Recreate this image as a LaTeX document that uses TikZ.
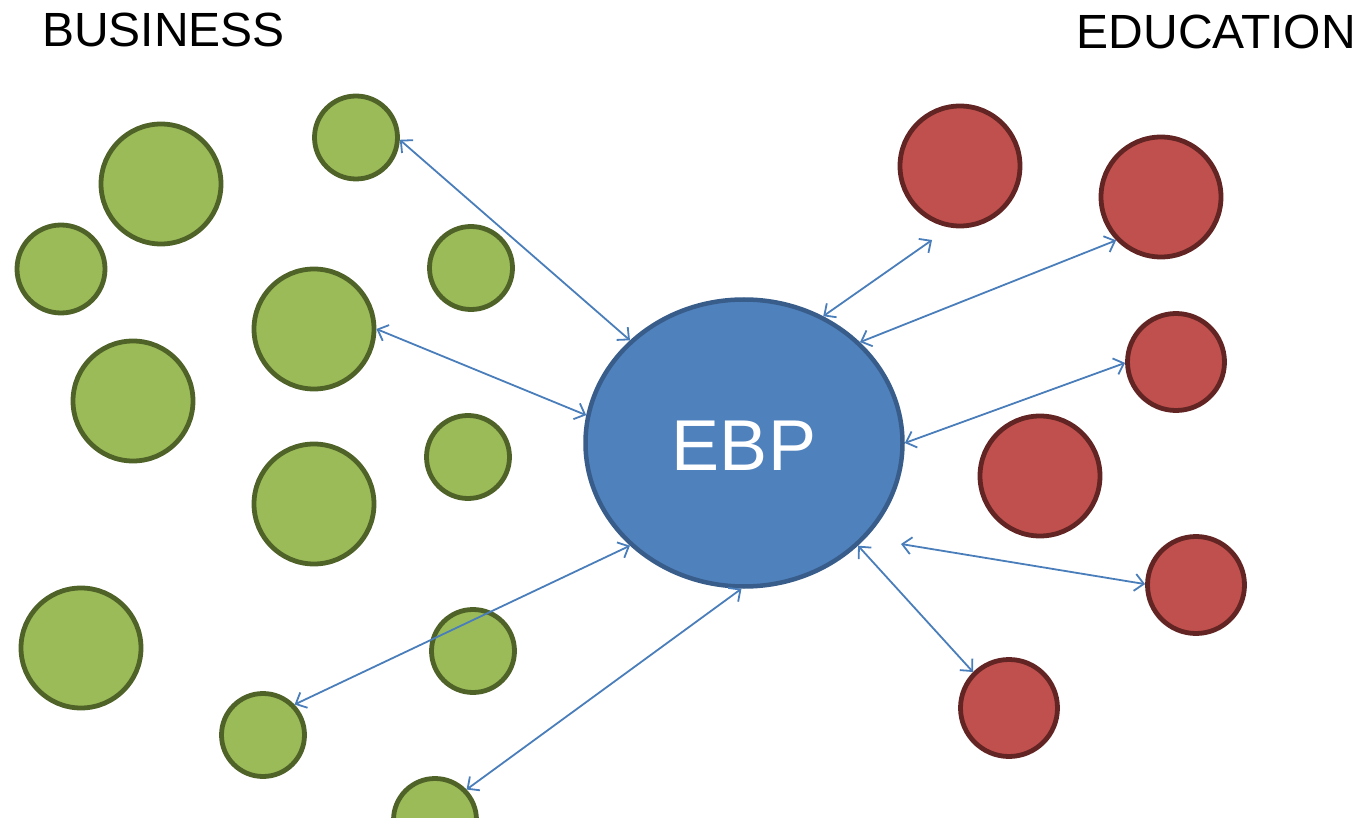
\documentclass[tikz,border=0pt]{standalone}
\usepackage{fontspec}
\setmainfont{Liberation Sans}
\usetikzlibrary{arrows.meta,shapes.geometric}
\definecolor{gfill}{HTML}{9BBB59}
\definecolor{gline}{HTML}{4F6228}
\definecolor{rfill}{HTML}{C0504D}
\definecolor{rline}{HTML}{632523}
\definecolor{bfill}{HTML}{4F81BD}
\definecolor{bline}{HTML}{385D8A}
\definecolor{aline}{HTML}{4A7EBB}
\tikzset{
  gc/.style={circle, draw=gline, fill=gfill, line width=4.8pt, inner sep=0pt},
  rc/.style={circle, draw=rline, fill=rfill, line width=4.8pt, inner sep=0pt},
  big/.style={minimum size=120pt},
  mid/.style={minimum size=97pt},
  small/.style={minimum size=83pt},
  link/.style={draw=aline, line width=1.8pt, {Straight Barb[length=9pt,width=17pt]}-{Straight Barb[length=9pt,width=17pt]}},
  title/.style={font=\fontsize{48}{56}\selectfont, inner sep=0pt}
}
\begin{document}
\begin{tikzpicture}[x=1pt,y=-1pt]
\path[use as bounding box, clip] (0,0) rectangle (1361,818);
% titles
\node[title, anchor=base west] (bus) at (42,47) {BUSINESS};
\node[title, anchor=base east] (edu) at (1356,49) {EDUCATION};
% green circles
\node[gc, small] (g1) at (356,137.5) {};
\node[gc, big] (g2) at (161,184) {};
\node[gc, minimum size=88pt] (g3) at (61,269) {};
\node[gc, small] (g4) at (471,268) {};
\node[gc, big] (g5) at (314,329) {};
\node[gc, big] (g6) at (133,401) {};
\node[gc, small] (g7) at (468,457) {};
\node[gc, big] (g8) at (314,504) {};
\node[gc, big] (g9) at (81,648) {};
\node[gc, small] (g10) at (473,651) {};
\node[gc, small] (g11) at (263,735) {};
\node[gc, small] (g12) at (435,820) {};
% red circles
\node[rc, big] (r1) at (960,166) {};
\node[rc, big] (r2) at (1161,197) {};
\node[rc, mid] (r3) at (1176,362) {};
\node[rc, big] (r4) at (1040,476) {};
\node[rc, mid] (r5) at (1196,585) {};
\node[rc, mid] (r6) at (1009,708) {};
% EBP
\node[ellipse, draw=bline, fill=bfill, line width=4.5pt, minimum width=317pt, minimum height=287pt, inner sep=0pt] (ebp) at (744,443) {};
\node[text=white, font=\fontsize{72}{80}\selectfont, inner sep=0pt] (ebplabel) at (744,446) {EBP};
% free ends
\coordinate (e5) at (932,240);
\coordinate (e8) at (901,544);
% connectors
\draw[link] (g1.-3) -- (ebp.138);
\draw[link] (g5.east) -- (ebp.170);
\draw[link] (g11.44) -- (ebp.222);
\draw[link] (g12.44) -- (ebp.269);
\draw[link] (ebp.58) -- (e5);
\draw[link] (ebp.41.5) -- (r2.224);
\draw[link] (ebp.east) -- (r3.181);
\draw[link] (e8) -- (r5.179);
\draw[link] (ebp.-42.4) -- (r6.135);
\end{tikzpicture}
\end{document}
